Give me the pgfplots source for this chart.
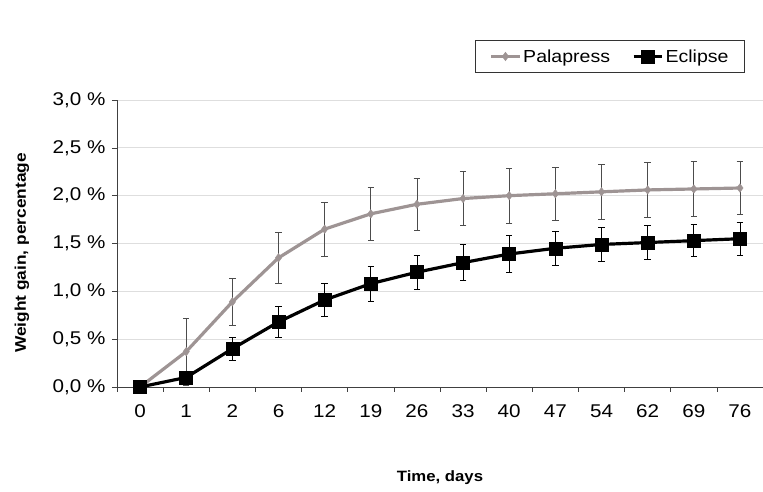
\documentclass[border=0pt]{standalone}
\usepackage{fontspec}
\setmainfont{Liberation Sans}[FakeStretch=1.12]
\usepackage{pgfplots}
\pgfplotsset{compat=1.18}
\usepackage{pgfplotstable}

\definecolor{pala}{RGB}{158,148,148}
\definecolor{gridc}{RGB}{222,222,222}

% day index, mean, error
\pgfplotstableread{
x y e
0  0.00 0.00
1  0.37 0.35
2  0.89 0.25
3  1.35 0.27
4  1.65 0.28
5  1.81 0.28
6  1.91 0.27
7  1.97 0.28
8  2.00 0.29
9  2.02 0.28
10 2.04 0.29
11 2.06 0.29
12 2.07 0.29
13 2.08 0.28
}\palapress

\pgfplotstableread{
x y e
0  0.00 0.00
1  0.10 0.04
2  0.40 0.12
3  0.68 0.16
4  0.91 0.17
5  1.08 0.18
6  1.20 0.18
7  1.30 0.19
8  1.39 0.19
9  1.45 0.18
10 1.49 0.18
11 1.51 0.18
12 1.53 0.17
13 1.55 0.17
}\eclipse

\begin{document}
\begin{tikzpicture}
\useasboundingbox (0,0) rectangle (763bp,492bp);
\begin{axis}[
    at={(117bp,105bp)}, anchor=south west,
    scale only axis,
    width=646bp, height=287bp,
    xmin=-0.5, xmax=13.5,
    ymin=0, ymax=3,
    axis lines=left,
    axis line style={-, line width=0.8pt, black!75},
    xtick={0,...,13},
    xticklabels={0,1,2,6,12,19,26,33,40,47,54,62,69,76},
    major x tick style={draw=none},
    minor xtick={-0.5,0.5,...,13.5},
    minor tick length=5bp,
    minor x tick style={line width=0.6pt, black!75},
    ytick={0,0.5,...,3},
    yticklabels={{0,0 \%},{0,5 \%},{1,0 \%},{1,5 \%},{2,0 \%},{2,5 \%},{3,0 \%}},
    major tick length=5bp,
    y tick style={line width=0.6pt, black!75},
    tick align=outside,
    ymajorgrids,
    grid style={gridc, line width=0.8pt},
    tick label style={font=\fontsize{18.5}{20}\selectfont},
    xticklabel style={yshift=-9bp},
    yticklabel style={xshift=-3bp},
    xlabel={\textbf{Time, days}},
    xlabel style={at={(axis description cs:0.5,-0.317)}, anchor=center, font=\fontsize{15}{17}\selectfont},
    ylabel={\textbf{Weight gain, percentage}},
    ylabel style={at={(axis description cs:-0.147,0.467)}, anchor=center, rotate=0, font=\fontsize{15.5}{17}\selectfont},
    legend columns=2,
    legend style={at={(axis description cs:0.972,1.209)}, anchor=north east,
        draw=black!80, line width=0.8pt, font=\fontsize{17.5}{19}\selectfont,
        inner xsep=14bp, inner ysep=7bp,
        /tikz/every even column/.append style={column sep=20bp}},
    legend image code/.code={
        \draw[mark repeat=2,mark phase=2] plot coordinates {(0cm,0cm) (0.5cm,0cm) (1.0cm,0cm)};},
    clip=false,
]
\addplot[pala, line width=3.2pt, mark=diamond*, mark size=4.2bp,
    mark options={fill=pala, draw=pala, line width=0.5pt},
    error bars/.cd, y dir=both, y explicit,
    error bar style={line width=0.8pt, black!70},
    error mark options={rotate=90, mark size=3.2bp, line width=0.8pt, black!70}]
    table[x=x, y=y, y error=e] {\palapress};
\addlegendentry{Palapress}
\addplot[black, line width=3.2pt, mark=square*, mark size=6.5bp,
    mark options={fill=black, line width=0.5pt},
    error bars/.cd, y dir=both, y explicit,
    error bar style={line width=0.8pt, black},
    error mark options={rotate=90, mark size=3.2bp, line width=0.8pt, black}]
    table[x=x, y=y, y error=e] {\eclipse};
\addlegendentry{Eclipse}
\end{axis}
\end{tikzpicture}
\end{document}
